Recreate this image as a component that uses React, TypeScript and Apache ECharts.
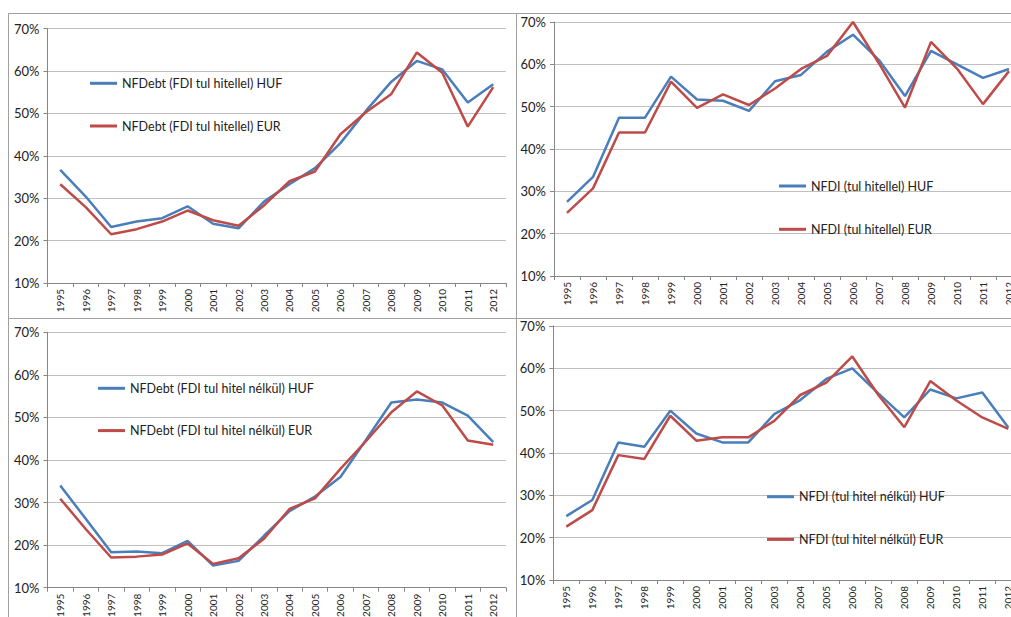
import React, { useEffect, useRef } from "react";
import * as echarts from "echarts";

const years = ["1995","1996","1997","1998","1999","2000","2001","2002","2003","2004","2005","2006","2007","2008","2009","2010","2011","2012"];

const debtWithLoanHUF = [36.7,30.4,23.2,24.5,25.3,28.1,24.0,22.9,29.2,33.3,37.1,43.0,50.6,57.5,62.4,60.4,52.6,56.9];
const debtWithLoanEUR = [33.3,27.9,21.5,22.7,24.5,27.1,24.8,23.5,28.3,34.0,36.3,45.1,50.3,54.6,64.4,59.6,46.9,56.2];

const fdiWithLoanHUF = [27.5,33.4,47.4,47.4,57.1,51.7,51.4,49.0,56.0,57.5,63.0,67.0,61.0,52.5,63.2,60.0,56.8,58.9];
const fdiWithLoanEUR = [24.9,30.7,43.9,43.9,55.9,49.7,52.9,50.4,54.3,58.9,62.0,70.0,60.2,49.8,65.3,59.0,50.6,58.4];

const debtNoLoanHUF = [34.0,26.2,18.3,18.5,18.1,21.0,15.2,16.3,22.2,28.0,31.4,36.0,44.7,53.5,54.2,53.5,50.4,44.2];
const debtNoLoanEUR = [30.9,23.8,17.1,17.3,17.8,20.4,15.6,16.9,21.5,28.5,31.0,37.9,44.4,51.2,56.1,52.8,44.6,43.6];

const fdiNoLoanHUF = [25.1,28.9,42.5,41.5,50.0,44.6,42.5,42.5,49.2,52.5,57.5,60.0,54.1,48.4,55.0,52.9,54.3,46.0];
const fdiNoLoanEUR = [22.6,26.5,39.5,38.6,48.8,42.9,43.7,43.7,47.6,53.7,56.6,62.8,53.7,46.1,57.0,52.4,48.4,45.7];

const panelNames = [
  ["NFDebt (FDI tul hitellel) HUF", "NFDebt (FDI tul hitellel) EUR"],
  ["NFDI (tul hitellel) HUF", "NFDI (tul hitellel) EUR"],
  ["NFDebt (FDI tul hitel nélkül) HUF", "NFDebt (FDI tul hitel nélkül) EUR"],
  ["NFDI (tul hitel nélkül) HUF", "NFDI (tul hitel nélkül) EUR"],
];
const panelData = [
  [debtWithLoanHUF, debtWithLoanEUR],
  [fdiWithLoanHUF, fdiWithLoanEUR],
  [debtNoLoanHUF, debtNoLoanEUR],
  [fdiNoLoanHUF, fdiNoLoanEUR],
];

const BLUE = "#4a7ebb";
const RED = "#be4b48";
const FONT = "Lato";

export default function App() {
  const ref = useRef<HTMLDivElement>(null);
  useEffect(() => {
    if (!ref.current) return;
    const chart = echarts.init(ref.current, null, { renderer: "svg" });

    const grids = [
      { left: 47.5, top: 28.7, width: 458.5, height: 254.3 },
      { left: 554, top: 22, width: 468, height: 254 },
      { left: 47.5, top: 332.3, width: 458.5, height: 255.4 },
      { left: 553.3, top: 326, width: 468, height: 254 },
    ].map((g) => ({ ...g, outerBoundsMode: "none", containLabel: false }));
    const legendPos = [
      { left: 90, top: 76.3, gap: 28.7 },
      { left: 779, top: 179, gap: 29.3 },
      { left: 98, top: 381.3, gap: 28.3 },
      { left: 767, top: 489.7, gap: 28.7 },
    ];

    const xAxis = grids.map((_, i) => ({
      type: "category",
      gridIndex: i,
      data: years,
      boundaryGap: true,
      axisLine: { show: true, lineStyle: { color: "#868686", width: 1 } },
      axisTick: { show: true, interval: 0, length: 4, lineStyle: { color: "#868686" } },
      axisLabel: {
        interval: 0,
        rotate: 90,
        margin: 6,
        fontFamily: FONT,
        fontSize: 10,
        color: "#222",
      },
      splitLine: { show: false },
    }));

    const yAxis = grids.map((_, i) => ({
      type: "value",
      gridIndex: i,
      min: 10,
      max: 70,
      interval: 10,
      axisLine: { show: true, lineStyle: { color: "#868686", width: 1 } },
      axisTick: { show: true, length: 4, lineStyle: { color: "#868686" } },
      axisLabel: {
        formatter: (v: number) => `${v}%`,
        margin: 8,
        fontFamily: FONT,
        fontSize: 13,
        color: "#222",
      },
      splitLine: { show: true, lineStyle: { color: "#c0c0c0", width: 1 } },
    }));

    const series: any[] = [];
    panelData.forEach((pair, i) => {
      pair.forEach((vals, j) => {
        series.push({
          type: "line",
          name: panelNames[i][j],
          xAxisIndex: i,
          yAxisIndex: i,
          data: vals,
          symbol: "none",
          clip: false,
          lineStyle: { color: j === 0 ? BLUE : RED, width: 2.5 },
          itemStyle: { color: j === 0 ? BLUE : RED },
        });
      });
    });

    const legend = legendPos.map((p, i) => ({
      orient: "vertical",
      left: p.left,
      top: p.top,
      padding: 0,
      itemGap: p.gap,
      itemWidth: 27,
      itemHeight: 3,
      icon: "rect",
      selectedMode: false,
      data: panelNames[i],
      textStyle: { fontFamily: FONT, fontSize: 12.5, color: "#222", lineHeight: 14 },
    }));

    const frameStyle = { fill: "none", stroke: "#a0a0a0", lineWidth: 1 };
    const graphic = [
      { type: "rect", shape: { x: 8.5, y: 13.5, width: 508, height: 305 }, style: frameStyle, silent: true },
      { type: "rect", shape: { x: 516.5, y: 13.5, width: 600, height: 305 }, style: frameStyle, silent: true },
      { type: "rect", shape: { x: 8.5, y: 318.5, width: 508, height: 400 }, style: frameStyle, silent: true },
      { type: "rect", shape: { x: 516.5, y: 318.5, width: 600, height: 400 }, style: frameStyle, silent: true },
    ];

    chart.setOption({
      animation: false,
      backgroundColor: "#ffffff",
      grid: grids,
      xAxis,
      yAxis,
      legend,
      series,
      graphic,
    });
    return () => chart.dispose();
  }, []);

  return (
    <div
      ref={ref}
      style={{ position: "absolute", left: 0, top: 0, width: 1011, height: 617 }}
    />
  );
}
